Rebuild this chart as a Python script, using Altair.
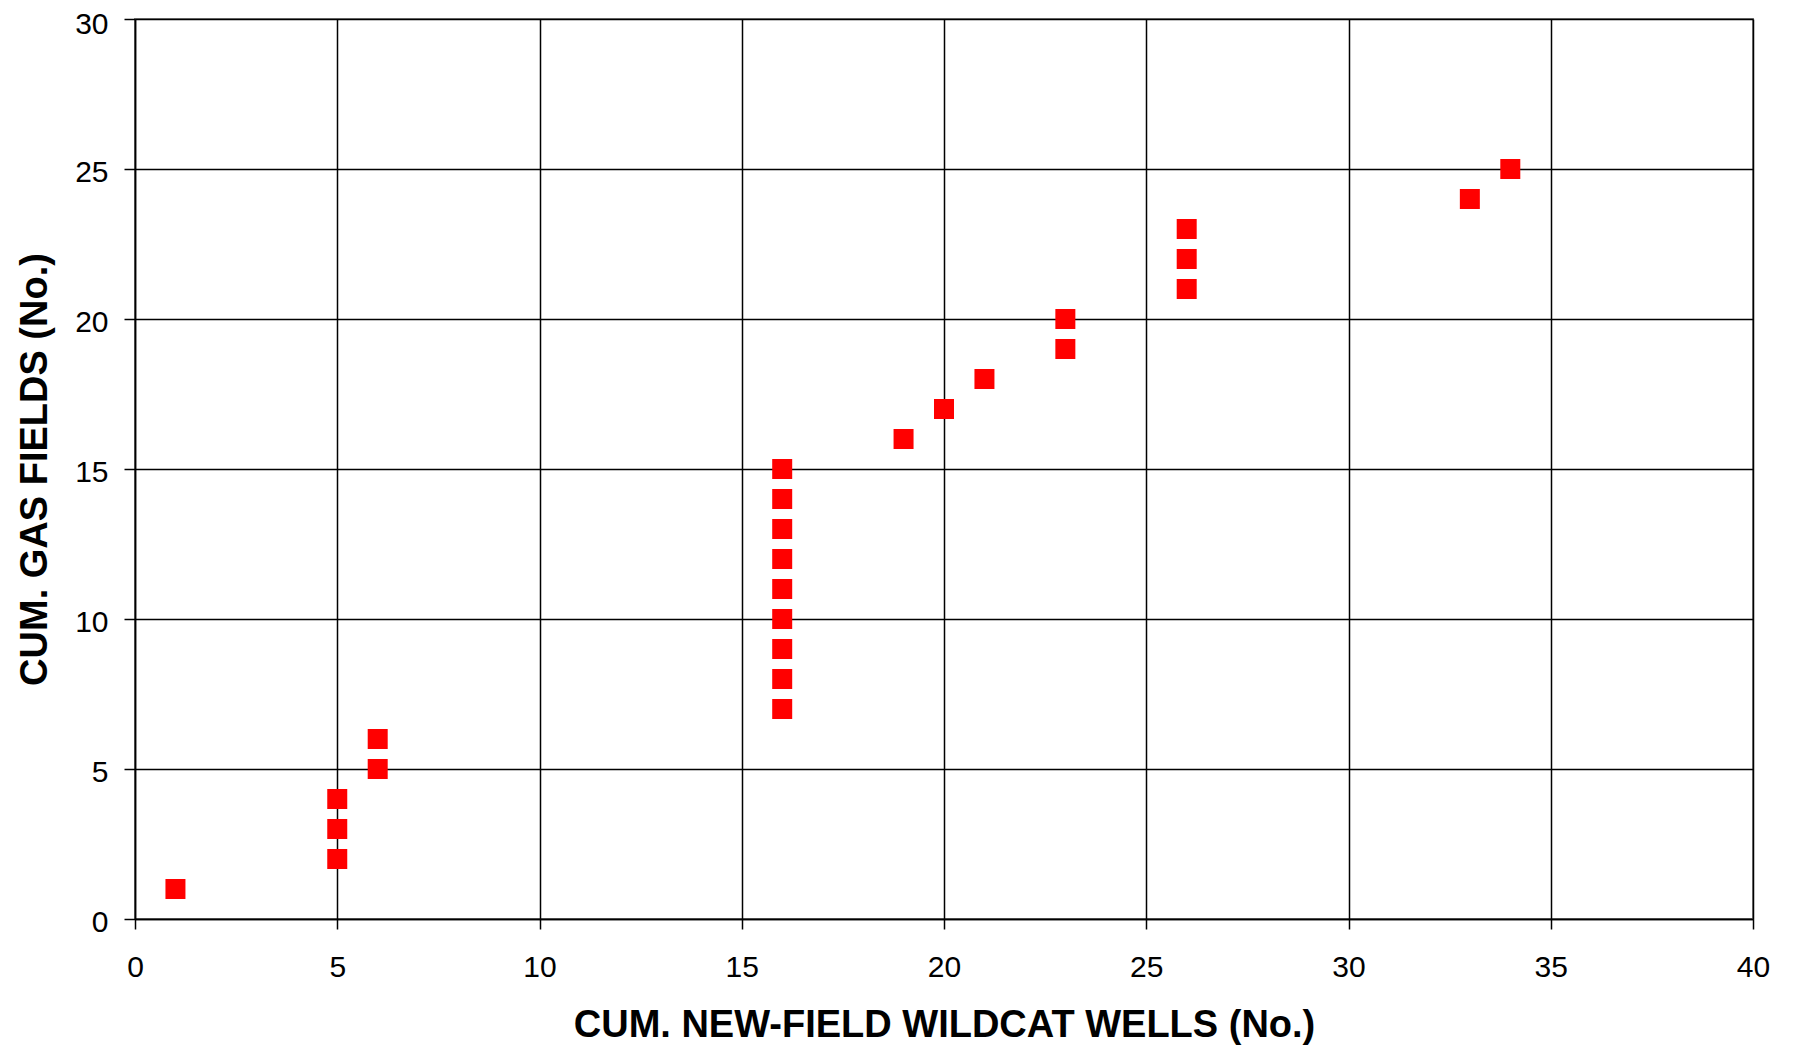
import altair as alt
import pandas as pd

# Data
wells = [1, 5, 5, 5, 6, 6, 16, 16, 16, 16, 16, 16, 16, 16, 16,
         19, 20, 21, 23, 23, 26, 26, 26, 33, 34]
fields = [1, 2, 3, 4, 5, 6, 7, 8, 9, 10, 11, 12, 13, 14, 15,
          16, 17, 18, 19, 20, 21, 22, 23, 24, 25]
x_ticks = [0, 5, 10, 15, 20, 25, 30, 35, 40]
y_ticks = [0, 5, 10, 15, 20, 25, 30]

df = pd.DataFrame({"wells": wells, "fields": fields})

FONT = "Liberation Sans"

common_axis = dict(
    domainColor="black", domainWidth=1.5,
    tickColor="black", tickWidth=1.5,
    gridColor="black", gridWidth=1.5, gridOpacity=1,
    labelFont=FONT, labelFontSize=30, labelColor="black",
    labelFlush=False, labelOverlap=False, labelBound=False,
    titleFont=FONT, titleFontSize=38, titleFontWeight="bold", titleColor="black",
)

chart = alt.Chart(df).mark_square(
    size=400, color="#FF0000", opacity=1
).encode(
    x=alt.X(
        "wells:Q",
        scale=alt.Scale(domain=[0, 40], nice=False, zero=True),
        axis=alt.Axis(
            values=x_ticks, title="CUM. NEW-FIELD WILDCAT WELLS (No.)",
            tickSize=10, labelPadding=23,
            titleX=809, titleY=117, titleBaseline="alphabetic", titleAlign="center",
            **common_axis,
        ),
    ),
    y=alt.Y(
        "fields:Q",
        scale=alt.Scale(domain=[0, 30], nice=False, zero=True),
        axis=alt.Axis(
            values=y_ticks, title="CUM. GAS FIELDS (No.)",
            tickSize=11, labelPadding=16,
            labelOffset={"condition": {"test": "datum.value == 30", "value": 5}, "value": 3},
            titleX=-89, titleY=450, titleAngle=270,
            titleBaseline="alphabetic", titleAlign="center",
            **common_axis,
        ),
    ),
).properties(
    width=1618, height=900,
    autosize=alt.AutoSizeParams(type="none"),
    padding={"left": 127, "top": 11, "right": 25, "bottom": 126},
).configure_view(
    stroke="#808080", strokeWidth=2
)

chart.save("out.html", embed_options={"renderer": "svg", "actions": False})
